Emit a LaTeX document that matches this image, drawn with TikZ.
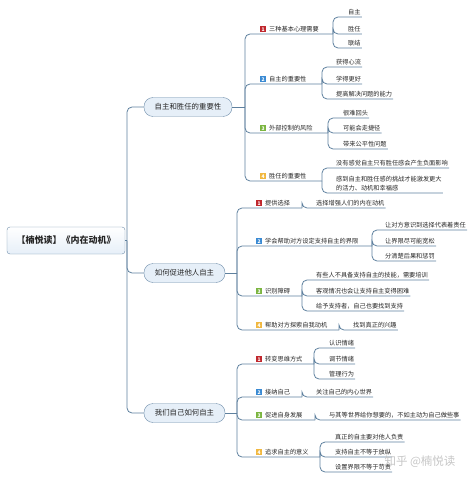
\documentclass[tikz,border=0pt]{standalone}
\usepackage{fontspec}
\setmainfont{Noto Sans CJK SC}
\definecolor{linkc}{HTML}{5E809E}
\definecolor{boxline}{HTML}{6E8DAA}
\definecolor{boxfill}{HTML}{E6EFF8}
\definecolor{numred}{HTML}{C0272D}
\definecolor{numblue}{HTML}{3A8AD3}
\definecolor{numgreen}{HTML}{7BB540}
\definecolor{numyellow}{HTML}{F1B840}
\newcommand{\badge}[2]{{\setlength{\fboxsep}{0pt}\colorbox{#1}{\makebox[6pt]{\rule[-0.8pt]{0pt}{6.5pt}\fontsize{5}{5}\selectfont\bfseries\color{white}#2}}}\hspace{3pt}}

\begin{document}
\begin{tikzpicture}[x=1pt, y=-1pt,
  link/.style={linkc, line width=0.8pt, rounded corners=5pt},
  rootbox/.style={draw=boxline, rounded corners=3pt, top color=white, bottom color=boxfill,
    minimum width=118pt, minimum height=27pt, text=black!85, font=\fontsize{9}{9}\selectfont\bfseries},
  mainbox/.style={draw=boxline, fill=boxfill, rounded corners=9pt, minimum height=19pt,
    text=black!85, font=\fontsize{7.4}{7.4}\selectfont},
  topic/.style={anchor=south west, inner xsep=1pt, inner ysep=1.5pt, text=black!85,
    font=\fontsize{6.2}{9.5}\selectfont},
  leaf/.style={topic, align=left}]
  \useasboundingbox (0,0) rectangle (474,481);

  % Centre et trois branches
  \node[rootbox] (root) at (66,240.5) {【楠悦读】《内在动机》};
  \node[mainbox, minimum width=88pt] (imp) at (188,107) {自主和胜任的重要性};
  \node[mainbox, minimum width=81pt] (help) at (184.5,273) {如何促进他人自主};
  \node[mainbox, minimum width=81pt] (self) at (184.5,413) {我们自己如何自主};
  \coordinate (hub) at (127,240.5);
  \draw[link] (root.east) -- (hub);
  \draw[link] (hub) |- (imp.west);
  \draw[link] (hub) |- (help.west);
  \draw[link] (hub) |- (self.west);

  % Branche 1
  \coordinate (impHub) at (245,107);
  \draw[link] (imp.east) -- (impHub);
  \node[topic] (imp1) at (259,34) {\badge{numred}{1}三种基本心理需要};
  \node[topic] (imp2) at (259,84) {\badge{numblue}{2}自主的重要性};
  \node[topic] (imp3) at (259,133) {\badge{numgreen}{3}外部控制的风险};
  \node[topic] (imp4) at (259,181) {\badge{numyellow}{4}胜任的重要性};
  \coordinate (imp1j) at (333,34);
  \coordinate (imp2j) at (322,84);
  \coordinate (imp3j) at (328,133);
  \coordinate (imp4j) at (322,181);
  \draw[link] (impHub) |- (imp1.south west) -- (imp1j);
  \draw[link] (impHub) |- (imp2.south west) -- (imp2j);
  \draw[link] (impHub) |- (imp3.south west) -- (imp3j);
  \draw[link] (impHub) |- (imp4.south west) -- (imp4j);

  \node[leaf] (imp1a) at (347,17) {自主};
  \node[leaf] (imp1b) at (347,34) {胜任};
  \node[leaf] (imp1c) at (347,48) {联结};
  \node[leaf] (imp2a) at (335,67) {获得心流};
  \node[leaf] (imp2b) at (335,84) {学得更好};
  \node[leaf] (imp2c) at (335,99) {提高解决问题的能力};
  \node[leaf] (imp3a) at (342,118) {很难回头};
  \node[leaf] (imp3b) at (342,133) {可能会走捷径};
  \node[leaf] (imp3c) at (342,149) {带来公平性问题};
  \node[leaf] (imp4a) at (335,168) {没有感觉自主只有胜任感会产生负面影响};
  \node[leaf] (imp4b) at (335,193) {感到自主和胜任感的挑战才能激发更大\\的活力、动机和幸福感};
  \foreach \p/\c in {imp1/imp1a, imp1/imp1b, imp1/imp1c, imp2/imp2a, imp2/imp2b, imp2/imp2c,
                     imp3/imp3a, imp3/imp3b, imp3/imp3c, imp4/imp4a, imp4/imp4b}
    \draw[link] (\p j) |- (\c.south west) -- (\c.south east);

  % Branche 2
  \coordinate (helpHub) at (237,273);
  \draw[link] (help.east) -- (helpHub);
  \node[topic] (help1) at (255,208) {\badge{numred}{1}提供选择};
  \node[topic] (help2) at (255,246) {\badge{numblue}{2}学会帮助对方设定支持自主的界限};
  \node[topic] (help3) at (255,296) {\badge{numgreen}{3}识别障碍};
  \node[topic] (help4) at (255,330) {\badge{numyellow}{4}帮助对方探索自我动机};
  \coordinate (help1j) at (302,208);
  \coordinate (help2j) at (372,246);
  \coordinate (help3j) at (302,296);
  \coordinate (help4j) at (339,330);
  \draw[link] (helpHub) |- (help1.south west) -- (help1j);
  \draw[link] (helpHub) |- (help2.south west) -- (help2j);
  \draw[link] (helpHub) |- (help3.south west) -- (help3j);
  \draw[link] (helpHub) |- (help4.south west) -- (help4j);

  \node[leaf] (help1a) at (315,208) {选择增强人们的内在动机};
  \node[leaf] (help2a) at (384,230) {让对方意识到选择代表着责任};
  \node[leaf] (help2b) at (384,246) {让界限尽可能宽松};
  \node[leaf] (help2c) at (384,261) {分清楚后果和惩罚};
  \node[leaf] (help3a) at (315,280) {有些人不具备支持自主的技能，需要培训};
  \node[leaf] (help3b) at (315,296) {客观情况也会让支持自主变得困难};
  \node[leaf] (help3c) at (315,311) {给予支持者，自己也要找到支持};
  \node[leaf] (help4a) at (352,330) {找到真正的兴趣};
  \foreach \p/\c in {help1/help1a, help2/help2a, help2/help2b, help2/help2c,
                     help3/help3a, help3/help3b, help3/help3c, help4/help4a}
    \draw[link] (\p j) |- (\c.south west) -- (\c.south east);

  % Branche 3
  \coordinate (selfHub) at (237,413);
  \draw[link] (self.east) -- (selfHub);
  \node[topic] (self1) at (255,364) {\badge{numred}{1}转变思维方式};
  \node[topic] (self2) at (255,397) {\badge{numblue}{2}接纳自己};
  \node[topic] (self3) at (255,420) {\badge{numgreen}{3}促进自身发展};
  \node[topic] (self4) at (255,457) {\badge{numyellow}{4}追求自主的意义};
  \coordinate (self1j) at (314,364);
  \coordinate (self2j) at (302,397);
  \coordinate (self3j) at (315,420);
  \coordinate (self4j) at (320,457);
  \draw[link] (selfHub) |- (self1.south west) -- (self1j);
  \draw[link] (selfHub) |- (self2.south west) -- (self2j);
  \draw[link] (selfHub) |- (self3.south west) -- (self3j);
  \draw[link] (selfHub) |- (self4.south west) -- (self4j);

  \node[leaf] (self1a) at (328,348) {认识情绪};
  \node[leaf] (self1b) at (328,364) {调节情绪};
  \node[leaf] (self1c) at (328,379) {管理行为};
  \node[leaf] (self2a) at (315,397) {关注自己的内心世界};
  \node[leaf] (self3a) at (328,420) {与其等世界给你想要的，不如主动为自己做些事};
  \node[leaf] (self4a) at (334,442) {真正的自主要对他人负责};
  \node[leaf] (self4b) at (334,457) {支持自主不等于放纵};
  \node[leaf] (self4c) at (334,472) {设置界限不等于苛责};
  \foreach \p/\c in {self1/self1a, self1/self1b, self1/self1c, self2/self2a, self3/self3a,
                     self4/self4a, self4/self4b, self4/self4c}
    \draw[link] (\p j) |- (\c.south west) -- (\c.south east);

  % Filigrane
  \node[text=gray!45, font=\fontsize{11.5}{11.5}\selectfont] (mark) at (420,462) {知乎 @楠悦读};
\end{tikzpicture}
\end{document}
